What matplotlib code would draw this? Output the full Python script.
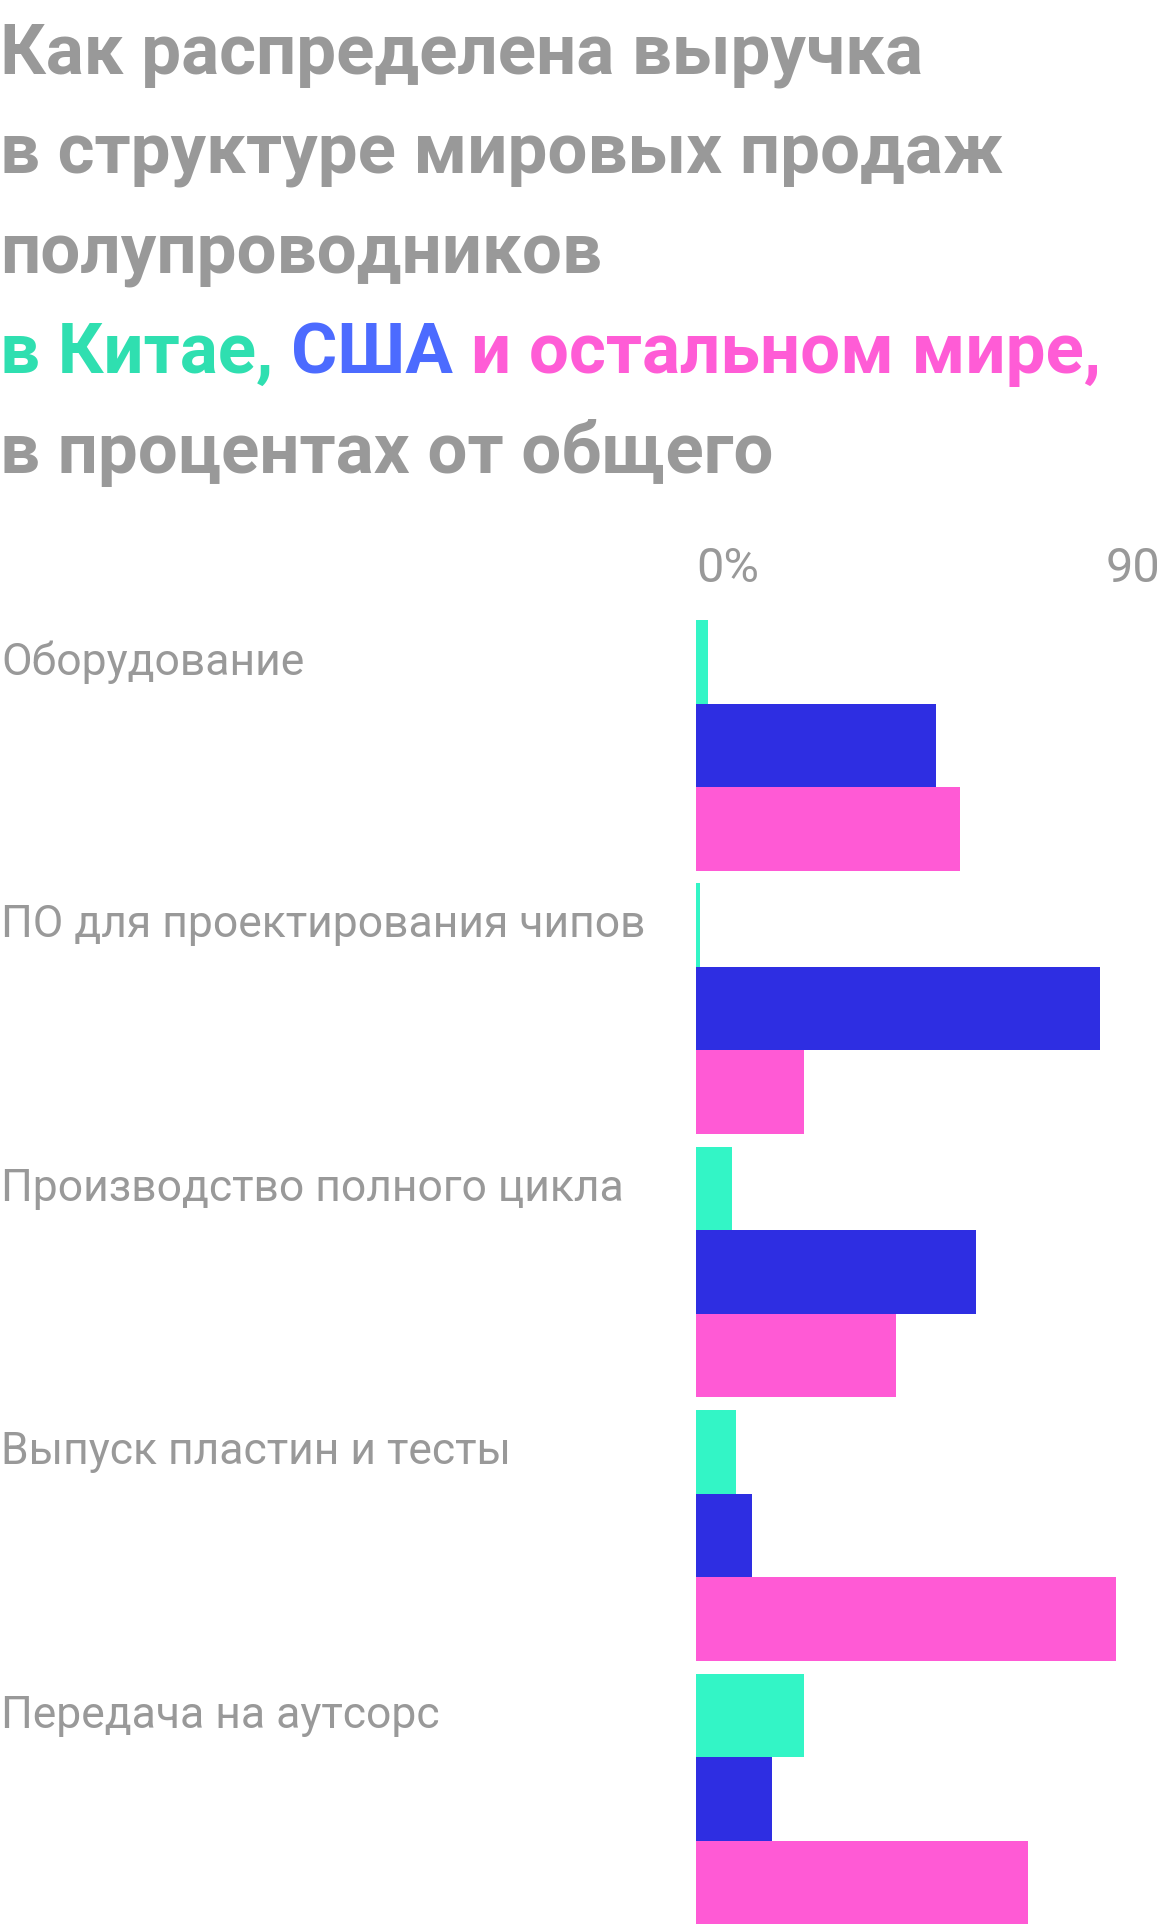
import matplotlib
matplotlib.use("Agg")
import matplotlib.pyplot as plt
import matplotlib.transforms as mtransforms

# shares of world revenue, percent
categories = [
    "Оборудование",
    "ПО для проектирования чипов",
    "Производство полного цикла",
    "Выпуск пластин и тесты",
    "Передача на аутсорс",
]
china = [2.3, 0.8, 7.0, 7.8, 20.9]
usa = [46.5, 78.3, 54.3, 10.9, 14.7]
rest = [51.2, 20.9, 38.8, 81.4, 64.3]

tick_values = [0, 90]
tick_labels = ["0%", "90"]

GREEN = "#33f5c6"
BLUE = "#2e2ee2"
PINK = "#ff5ad5"
GREY = "#999999"
TITLE_GREEN = "#2fdfb0"
TITLE_BLUE = "#4c6bff"
TITLE_PINK = "#ff5cd6"

W, H = 1160, 1928
fig = plt.figure(figsize=(W / 100, H / 100), dpi=100)
fig.patch.set_facecolor("white")

ax = fig.add_axes([696 / W, 0, 1 - 696 / W, 1 - 620 / H])

period = 3.155
ys = [i * period for i in range(len(categories))]
for i in range(len(categories)):
    ax.barh(ys[i] + 0.5, china[i], height=1.0, color=GREEN, linewidth=0)
    ax.barh(ys[i] + 1.5, usa[i], height=1.0, color=BLUE, linewidth=0)
    ax.barh(ys[i] + 2.5, rest[i], height=1.0, color=PINK, linewidth=0)

ax.set_xlim(0, 90)
ax.set_ylim(1308 / 83.5, 0)
for s in ax.spines.values():
    s.set_visible(False)
ax.set_yticks([])
ax.xaxis.tick_top()
ax.set_xticks(tick_values)
ax.set_xticklabels(tick_labels)
ax.tick_params(axis="x", length=0, pad=20, labelsize=35, labelcolor=GREY)
labels = ax.get_xticklabels()
labels[0].set_ha("left")
labels[-1].set_ha("right")
for lb in labels:
    lb.set_fontfamily("Roboto")
    lb.set_fontweight("normal")

# category names next to the first bar of each group
trans = mtransforms.blended_transform_factory(fig.transFigure, ax.transData)
for i, name in enumerate(categories):
    ax.text(0.001, ys[i] + 0.5, name, transform=trans, ha="left", va="center",
            fontsize=32, color=GREY, family="Roboto", weight="normal")

# title
title_kw = dict(fontsize=51, family="Roboto", weight="bold", va="baseline")
lines = ["Как распределена выручка",
         "в структуре мировых продаж",
         "полупроводников",
         None,
         "в процентах от общего"]
for k, line in enumerate(lines):
    if line is None:
        continue
    fig.text(0, 1 - (73 + 100 * k) / H, line, color=GREY, **title_kw)

# coloured line, drawn piece by piece
renderer = fig.canvas.get_renderer()
x = 0
parts = [("в Китае, ", TITLE_GREEN), ("США ", TITLE_BLUE), ("и остальном мире,", TITLE_PINK)]
for txt, col in parts:
    t = fig.text(x / W, 1 - 373 / H, txt, color=col, **title_kw)
    bb = t.get_window_extent(renderer)
    x += bb.width

fig.savefig("out.png", dpi=100, facecolor="white")
